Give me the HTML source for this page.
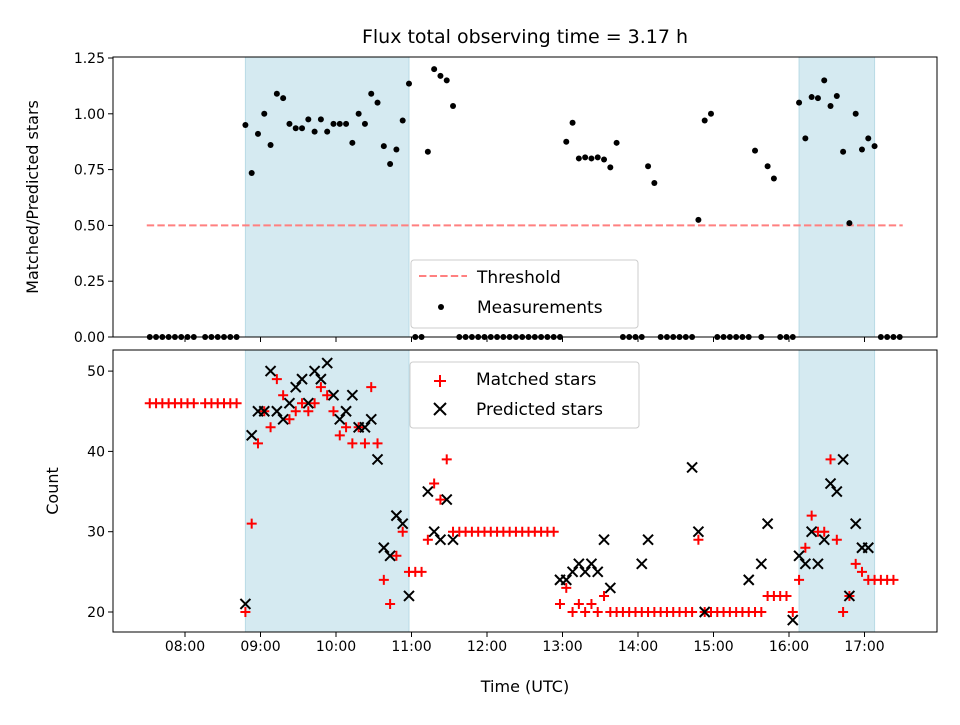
<!DOCTYPE html>
<html><head><meta charset="utf-8"><style>
body{margin:0;background:#fff}
svg text{font-family:"DejaVu Sans","Liberation Sans",sans-serif;fill:#000}
</style></head><body>
<svg id="c" width="960" height="720" viewBox="0 0 960 720" xmlns="http://www.w3.org/2000/svg"></svg>
<script>
const times=[452,457,462,467,472,477,482,487,496,501,506,511,516,521,
528,533,538,543,548,553,558,563,568,573,578,583,588,593,598,603,608,613,618,623,628,633,638,643,648,653,658,663,668,
673,678,683,688,693,698,703,708,713,718,723,728,733,738,743,748,753,758,763,768,773,778,
783,788,793,798,803,808,813,818,823,828,833,838,843,848,853,858,863,868,873,878,883,888,893,898,903,908,913,918,923,928,
933,938,943,948,953,958,963,968,973,978,983,988,993,998,1003,1008,1013,1018,1023,1028,1033,1038,1043,1048];
const ratio=[0,0,0,0,0,0,0,0,0,0,0,0,0,0,
.95,.735,.91,1.0,.86,1.09,1.07,.955,.935,.935,.975,.92,.975,.92,.955,.955,.955,.87,1.0,.955,1.09,1.05,.855,.775,.84,.97,1.135,0,0,
.83,1.2,1.17,1.15,1.035,0,0,0,0,0,0,0,0,0,0,0,0,0,0,0,0,0,
.875,.96,.8,.805,.8,.805,.795,.76,.87,0,0,0,0,.765,.69,0,0,0,0,0,0,.525,.97,1.0,0,0,0,0,0,0,
.835,0,.765,.71,0,0,0,1.05,.89,1.075,1.07,1.15,1.035,1.08,.83,.51,1.0,.84,.89,.855,0,0,0,0];
const matched=[46,46,46,46,46,46,46,46,46,46,46,46,46,46,
20,31,41,45,43,49,47,44,45,46,45,46,48,47,45,42,43,41,43,41,48,41,24,21,27,30,25,25,25,
29,36,34,39,30,30,30,30,30,30,30,30,30,30,30,30,30,30,30,30,30,
21,23,20,21,20,21,20,22,20,20,20,20,20,20,20,20,20,20,20,20,20,20,29,20,20,20,20,20,20,20,
20,20,20,22,22,22,22,20,24,28,32,30,30,39,29,20,22,26,25,24,24,24,24,24];
const predicted=[null,null,null,null,null,null,null,null,null,null,null,null,null,null,
21,42,45,45,50,45,44,46,48,49,46,50,49,51,47,44,45,47,43,43,44,39,28,27,32,31,22,null,null,
35,30,29,34,29,null,null,null,null,null,null,null,null,null,null,null,null,null,null,null,null,
24,24,25,26,25,26,25,29,23,null,null,null,null,26,29,null,null,null,null,null,null,38,30,20,null,null,null,null,null,null,
24,null,26,31,null,null,null,19,27,26,30,26,29,36,35,39,22,31,28,28,null,null,null,null];
const xTicks=[480,540,600,660,720,780,840,900,960,1020];
const xTickLabels=["08:00","09:00","10:00","11:00","12:00","13:00","14:00","15:00","16:00","17:00"];
const topTicks=[0,0.25,0.5,0.75,1.0,1.25];
const topTickLabels=["0.00","0.25","0.50","0.75","1.00","1.25"];
const botTicks=[20,30,40,50];
const spans=[[528,658],[968,1028]];
const threshold=0.5;

const NS="http://www.w3.org/2000/svg";
const svg=document.getElementById('c');
function el(t,a,p){const e=document.createElementNS(NS,t);for(const k in a)e.setAttribute(k,a[k]);(p||svg).appendChild(e);return e;}
const X=t=>185+(t-480)*75.5/60;
const YT=r=>337-r*223.2;
const YB=v=>612-(v-20)*8.03;
const L=113,R=937,T1=57,B1=337,T2=350,B2=632;

function spansDraw(top,bot){spans.forEach(s=>{const r=el('rect',{x:X(s[0]),y:top,width:X(s[1])-X(s[0]),height:bot-top,fill:'#d5eaf1',stroke:'#b9dbe6','stroke-width':1});

});}
spansDraw(T1,B1);spansDraw(T2,B2);

// threshold
const th=el('line',{x1:X(452)-3,x2:X(1048)+3,y1:YT(threshold),y2:YT(threshold),stroke:'#ff8080','stroke-width':2,'stroke-dasharray':'7.4,3.2'});



// top points
times.forEach((t,i)=>{const c=el('circle',{cx:X(t),cy:YT(ratio[i]),r:3,fill:'#000'});

});

// bottom
times.forEach((t,i)=>{const x=X(t),y=YB(matched[i]),s=5;
const p=el('path',{d:`M${x-s} ${y}H${x+s}M${x} ${y-s}V${y+s}`,stroke:'#ff0000','stroke-width':2,fill:'none'});

});
times.forEach((t,i)=>{if(predicted[i]==null)return;const x=X(t),y=YB(predicted[i]),s=5;
const p=el('path',{d:`M${x-s} ${y-s}L${x+s} ${y+s}M${x-s} ${y+s}L${x+s} ${y-s}`,stroke:'#000','stroke-width':2,fill:'none'});

});

// frames
[[T1,B1],[T2,B2]].forEach((f,k)=>{const r=el('rect',{x:L,y:f[0],width:R-L,height:f[1]-f[0],fill:'none',stroke:'#000','stroke-width':1});


xTicks.forEach((t,i)=>{el('line',{x1:X(t),x2:X(t),y1:f[1],y2:f[1]+5,stroke:'#000'});
if(k){const tx=el('text',{x:X(t),y:f[1]+19,'font-size':14,'text-anchor':'middle'});tx.textContent=xTickLabels[i];

}});});
topTicks.forEach((v,i)=>{el('line',{x1:L-5,x2:L,y1:YT(v),y2:YT(v),stroke:'#000'});
const tx=el('text',{x:L-8,y:YT(v)+5,'font-size':14,'text-anchor':'end'});tx.textContent=topTickLabels[i];

});
botTicks.forEach(v=>{el('line',{x1:L-5,x2:L,y1:YB(v),y2:YB(v),stroke:'#000'});
const tx=el('text',{x:L-8,y:YB(v)+5,'font-size':14,'text-anchor':'end'});tx.textContent=v;

});

function txt(s,a,name){const t=el('text',a);t.textContent=s;return t;}
txt('Flux total observing time = 3.17 h',{x:525,y:43,'font-size':19,'text-anchor':'middle'},'chart-title');
txt('Matched/Predicted stars',{x:0,y:0,'font-size':16,'text-anchor':'middle',transform:'translate(38,197) rotate(-90)'},'ratio-axis-title');
txt('Count',{x:0,y:0,'font-size':16,'text-anchor':'middle',transform:'translate(58,491) rotate(-90)'},'count-axis-title');
txt('Time (UTC)',{x:525,y:692,'font-size':16,'text-anchor':'middle'},'x-axis-title');

// legends
const lg1=el('g',{});
el('rect',{x:411,y:260,width:227,height:68,rx:3,fill:'#fff','fill-opacity':0.8,stroke:'#ccc'},lg1);
el('line',{x1:419,x2:467,y1:276,y2:276,stroke:'#ff8080','stroke-width':2,'stroke-dasharray':'7.4,3.2'},lg1);
el('circle',{cx:441,cy:307,r:3,fill:'#000'},lg1);
const a1=el('text',{x:477,y:283,'font-size':17},lg1);a1.textContent='Threshold';
const a2=el('text',{x:477,y:313,'font-size':17},lg1);a2.textContent='Measurements';
const lg2=el('g',{});
el('rect',{x:410,y:362,width:229,height:66,rx:3,fill:'#fff','fill-opacity':0.8,stroke:'#ccc'},lg2);
el('path',{d:'M434 381H446M440 375V387',stroke:'#ff0000','stroke-width':2},lg2);
el('path',{d:'M434 403L446 415M434 415L446 403',stroke:'#000','stroke-width':2},lg2);
const b1=el('text',{x:476,y:385,'font-size':17},lg2);b1.textContent='Matched stars';
const b2=el('text',{x:476,y:415,'font-size':17},lg2);b2.textContent='Predicted stars';
</script>
</body></html>
